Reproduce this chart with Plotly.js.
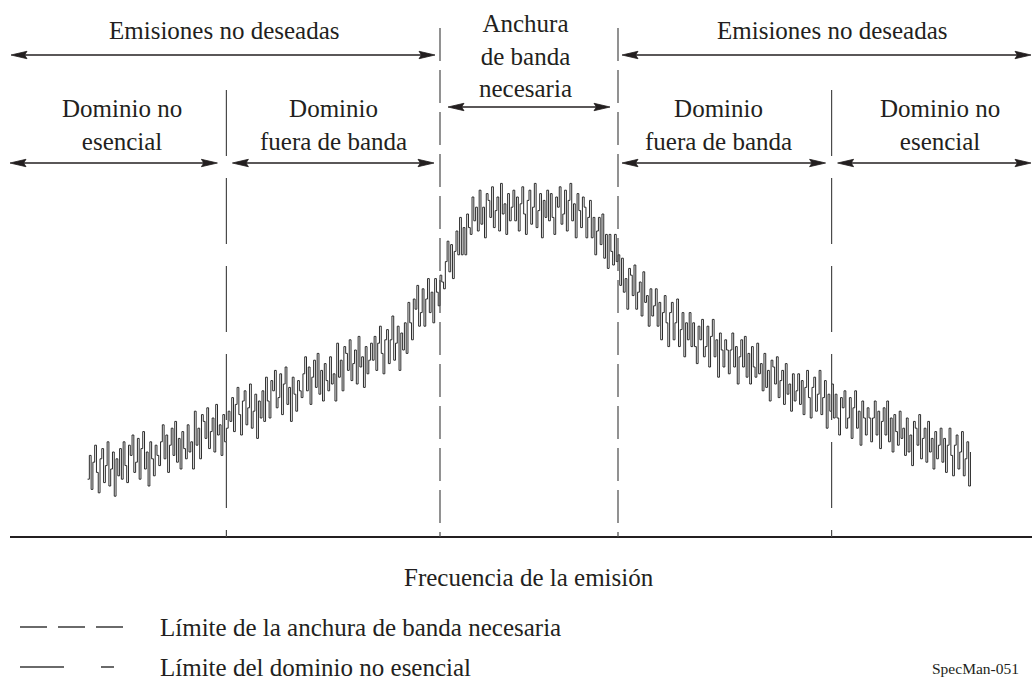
<!DOCTYPE html>
<html><head><meta charset="utf-8">
<script src="https://cdn.plot.ly/plotly-3.0.1.min.js"></script>
<style>html,body{margin:0;padding:0;background:#fff}#chart{width:1032px;height:682px}</style>
</head><body><div id="chart"></div>
<script>
// ---------------- DATA ----------------
// Emission spectrum: frequency offset (necessary-bandwidth units, centre = 0), sampled every 0.01
const freqStart = -2.48;
const freqStep = 0.01;
// Relative emission level (arbitrary units, 0 = frequency axis)
const emissionLevel = [
  17,24,14,22,27,19,13,23,26,16,21,28,15,20,25,12,23,18,26,17,
  28,21,16,27,24,30,19,22,29,17,26,31,20,25,15,28,23,18,27,24,
  21,28,33,23,30,19,27,32,24,34,22,29,20,31,26,23,33,25,28,20,
  37,27,32,23,36,34,29,38,26,31,35,25,39,30,33,24,36,28,32,37,
  34,41,31,39,44,36,30,40,43,33,38,45,32,37,42,29,40,35,43,34,
  47,40,35,46,43,49,38,41,48,36,45,50,39,44,34,47,42,37,46,43,
  41,48,53,43,50,39,47,52,44,54,42,49,40,51,46,43,53,45,48,40,
  57,47,52,43,56,54,49,58,46,51,55,45,59,50,53,44,56,48,52,57,
  52,59,49,57,62,54,48,58,61,51,58,65,52,57,62,49,60,55,63,54,
  69,63,58,70,67,74,62,66,73,62,70,76,66,72,63,76,72,68,77,75,
  73,81,87,78,86,76,84,90,83,94,83,91,83,95,91,89,100,93,97,90,
  102,92,97,88,101,99,94,103,91,96,100,90,104,95,98,89,101,93,97,102,
  93,100,90,98,103,95,89,99,102,92,97,104,91,96,101,88,99,94,102,93,
  101,94,89,100,97,103,92,95,102,90,99,104,93,98,88,101,96,91,100,97,
  88,94,99,88,94,83,90,94,86,95,82,89,79,89,84,80,89,81,83,74,
  82,72,76,67,79,77,71,80,67,72,75,65,78,69,71,62,73,65,68,73,
  62,69,58,66,71,63,56,66,69,58,63,70,56,61,66,53,63,58,66,56,
  63,56,51,62,58,64,53,56,62,50,59,64,53,58,47,60,55,50,58,55,
  48,55,60,50,56,45,53,58,50,59,47,54,45,56,50,47,57,48,51,43,
  54,44,49,40,52,50,45,53,41,46,49,39,51,42,45,37,48,40,43,48,
  39,46,36,44,49,41,35,44,47,37,42,49,36,41,46,32,42,37,45,35,
  42,35,30,41,38,43,32,35,41,29,38,43,32,37,27,40,35,30,38,35,
  28,35,40,30,37,26,34,38,30,40,28,35,25,36,31,27,37,29,32,24,
  35,25,30,21,34,32,27,36,23,29,32,22,34,25,29,20,31,23,27,32,
  22,29,19,27,32,24,18,27,30,20,25,31,18,23,28,15,25
];
const bandEdges = [-0.5, 0.5];          // limits of the necessary bandwidth
const spuriousBounds = [-1.7, 1.7];     // limits of the spurious domain
const topLabel = "Emisiones no deseadas";
const bandLabel = "Anchura<br>de banda<br>necesaria";
const spuriousLabel = "Dominio no<br>esencial";
const oobLabel = "Dominio<br>fuera de banda";
const xTitle = "Frecuencia de la emisión";
const legendLabels = ["Límite de la anchura de banda necesaria", "Límite del dominio no esencial"];
const figId = "SpecMan-051";

// ---------------- GEOMETRY (layout only) ----------------
const W = 1032, H = 682;
const CX = 529, PXF = 178, BASE = 537, PXL = 3.4;
const fx = px => (px - CX) / PXF;        // pixel -> frequency units
const ly = py => (BASE - py) / PXL;      // pixel -> level units
const xr = [fx(0), fx(W)], yr = [ly(H), ly(0)];

const freq = emissionLevel.map((_, i) => +(freqStart + i * freqStep).toFixed(4));
const INK = "#231f20";
const FONT = "Liberation Serif";

const traces = [{
  type: "scatter", mode: "lines", x: freq, y: emissionLevel,
  line: {color: "#2b2b2b", width: 1, shape: "hv"}, hoverinfo: "skip"
}];

const shapes = [];
// baseline (frequency axis)
shapes.push({type: "line", xref: "x", yref: "y", x0: fx(10), x1: fx(W), y0: 0, y1: 0,
  line: {color: INK, width: 2}});
// necessary bandwidth limits
bandEdges.forEach(f => shapes.push({type: "line", xref: "x", yref: "y", x0: f, x1: f,
  y0: ly(28), y1: 0, line: {color: "#4a4a4a", width: 1.2, dash: "33px,9px"}}));
// spurious domain limits
spuriousBounds.forEach(f => shapes.push({type: "line", xref: "x", yref: "y", x0: f, x1: f,
  y0: ly(90), y1: 0, line: {color: "#4a4a4a", width: 1.2, dash: "66px,22px"}}));

function arrow(p1, p2, py) {
  const y = ly(py), L = 16 / PXF, h = 3.7 / PXL;
  const a = fx(p1), b = fx(p2);
  shapes.push({type: "line", xref: "x", yref: "y", x0: a + L * 0.6, x1: b - L * 0.6, y0: y, y1: y,
    line: {color: INK, width: 1.3}});
  shapes.push({type: "path", xref: "x", yref: "y",
    path: `M ${a},${y} L ${a + L},${y + h} L ${a + L * 0.85},${y} L ${a + L},${y - h} Z`,
    fillcolor: INK, line: {color: INK, width: 0.8}});
  shapes.push({type: "path", xref: "x", yref: "y",
    path: `M ${b},${y} L ${b - L},${y + h} L ${b - L * 0.85},${y} L ${b - L},${y - h} Z`,
    fillcolor: INK, line: {color: INK, width: 0.8}});
}
const leftEdgePx = CX + bandEdges[0] * PXF, rightEdgePx = CX + bandEdges[1] * PXF;
const leftSpPx = CX + spuriousBounds[0] * PXF, rightSpPx = CX + spuriousBounds[1] * PXF;
arrow(11, leftEdgePx - 5, 55);
arrow(rightEdgePx + 4, W - 1, 55);
arrow(leftEdgePx + 8, rightEdgePx - 8, 107);
arrow(10, leftSpPx - 9, 163);
arrow(leftSpPx + 6, leftEdgePx - 6, 163);
arrow(rightEdgePx + 4, rightSpPx - 6, 163);
arrow(rightSpPx + 6, W - 1, 163);

// legend samples
shapes.push({type: "line", xref: "paper", yref: "paper", x0: 20 / W, x1: 124 / W,
  y0: 1 - 627 / H, y1: 1 - 627 / H, line: {color: "#3a3a3a", width: 1.3, dash: "27px,11px"}});
shapes.push({type: "line", xref: "paper", yref: "paper", x0: 20 / W, x1: 114 / W,
  y0: 1 - 667 / H, y1: 1 - 667 / H, line: {color: "#3a3a3a", width: 1.3, dash: "44px,37px,13px,60px"}});

const ann = [];
function txt(text, px, py, size, xanchor, ref) {
  const a = {text: text, showarrow: false, xanchor: xanchor || "center", yanchor: "middle",
    font: {family: FONT, size: size || 25, color: INK}};
  if (ref === "paper") { a.xref = "paper"; a.yref = "paper"; a.x = px / W; a.y = 1 - py / H; }
  else { a.xref = "x"; a.yref = "y"; a.x = fx(px); a.y = ly(py); }
  ann.push(a);
}
txt(topLabel, 224, 30);
txt(topLabel, 832, 30);
txt(bandLabel, 525, 56);
txt(spuriousLabel, 122, 125);
txt(oobLabel, 333, 125);
txt(oobLabel, 718, 125);
txt(spuriousLabel, 940, 125);
txt(xTitle, 529, 577);
txt(legendLabels[0], 158, 627, 25, "left", "paper");
txt(legendLabels[1], 158, 667, 25, "left", "paper");
txt(figId, 1021, 668, 15.5, "right", "paper");

const layout = {
  width: W, height: H, margin: {l: 0, r: 0, t: 0, b: 0, pad: 0},
  paper_bgcolor: "#fff", plot_bgcolor: "#fff", showlegend: false,
  xaxis: {range: xr, visible: false, fixedrange: true},
  yaxis: {range: yr, visible: false, fixedrange: true},
  shapes: shapes, annotations: ann
};
Plotly.newPlot("chart", traces, layout, {staticPlot: true, displayModeBar: false});
</script></body></html>
